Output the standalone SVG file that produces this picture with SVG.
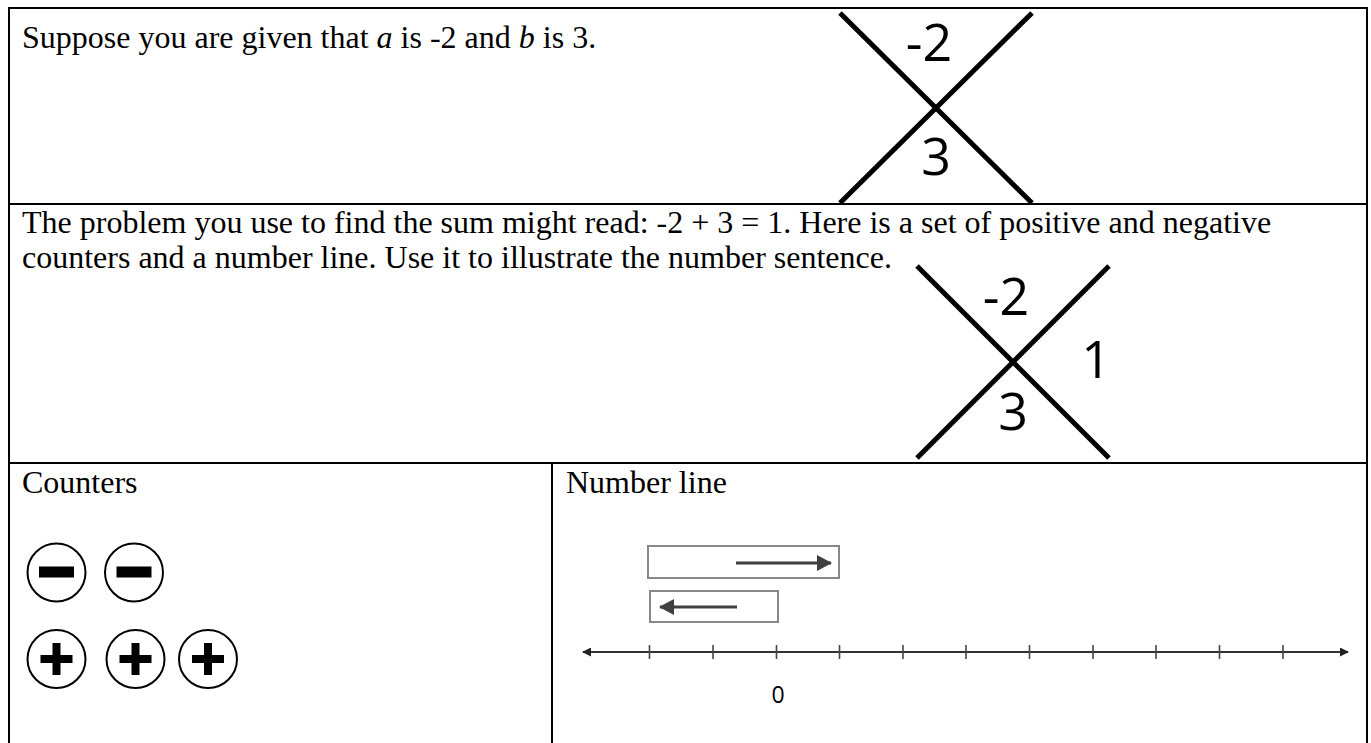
<svg xmlns="http://www.w3.org/2000/svg" width="1371" height="743" viewBox="0 0 1371 743">
  <style>
    .grid { stroke: #000; stroke-width: 2; fill: none; }
    .txt { font-family: "Liberation Serif", "Times New Roman", serif; font-size: 32px; fill: #000; }
    .xl { stroke: #000; stroke-width: 5; }
    .dig { font-family: "Open Sans", "Noto Sans", sans-serif; font-size: 52px; fill: #000; text-anchor: middle; }
    .ctr { fill: #fff; stroke: #000; stroke-width: 2; }
    .box { fill: #fff; stroke: #888; stroke-width: 2; }
    .garrow { stroke: #404040; stroke-width: 3; }
    .nl { stroke: #333; stroke-width: 2.2; }
    .tick { stroke: #444; stroke-width: 1.6; }
  </style>
  <defs>
    <marker id="ahGray" viewBox="0 0 15 16" refX="14" refY="8" markerUnits="userSpaceOnUse" markerWidth="15" markerHeight="16" orient="auto">
      <path d="M0,0 L15,8 L0,16 Z" fill="#404040"/>
    </marker>
    <marker id="ahLine" viewBox="0 0 9 9" refX="8" refY="4.5" markerUnits="userSpaceOnUse" markerWidth="9" markerHeight="9" orient="auto-start-reverse">
      <path d="M0,0 L9,4.5 L0,9 Z" fill="#222"/>
    </marker>
  </defs>

  <g id="table">
    <line class="grid" x1="9" y1="8" x2="1367" y2="8"/>
    <line class="grid" x1="9" y1="204" x2="1367" y2="204"/>
    <line class="grid" x1="9" y1="463" x2="1367" y2="463"/>
    <line class="grid" x1="9" y1="7" x2="9" y2="743"/>
    <line class="grid" x1="1367" y1="7" x2="1367" y2="743"/>
    <line class="grid" x1="552" y1="463" x2="552" y2="743"/>
  </g>

  <g id="row1-text">
    <text class="txt" x="22" y="48">Suppose you are given that <tspan font-style="italic">a</tspan> is -2 and <tspan font-style="italic">b</tspan> is 3.</text>
  </g>

  <g id="x-diagram-1">
    <line class="xl" x1="840" y1="13" x2="1032" y2="203"/>
    <line class="xl" x1="1032" y1="13" x2="840" y2="203"/>
    <text class="dig" x="929" y="61">-2</text>
    <text class="dig" x="936" y="175">3</text>
  </g>

  <g id="row2-text">
    <text class="txt" x="22" y="233">The problem you use to find the sum might read: -2 + 3 = 1. Here is a set of positive and negative</text>
    <text class="txt" x="22" y="268">counters and a number line. Use it to illustrate the number sentence.</text>
  </g>

  <g id="x-diagram-2">
    <line class="xl" x1="917" y1="266" x2="1109" y2="458"/>
    <line class="xl" x1="1109" y1="266" x2="917" y2="458"/>
    <text class="dig" x="1006" y="315">-2</text>
    <text class="dig" x="1096" y="378">1</text>
    <text class="dig" x="1013" y="430">3</text>
  </g>

  <g id="counters">
    <text class="txt" x="22" y="493">Counters</text>
    <g id="neg1">
      <circle class="ctr" cx="56.5" cy="572.5" r="29"/>
      <rect x="39" y="566.5" width="35" height="11" fill="#000"/>
    </g>
    <g id="neg2">
      <circle class="ctr" cx="134" cy="572.5" r="29"/>
      <rect x="116.5" y="566.5" width="35" height="11" fill="#000"/>
    </g>
    <g id="pos1">
      <circle class="ctr" cx="56.5" cy="659" r="29"/>
      <rect x="40.5" y="655" width="32" height="8" fill="#000"/>
      <rect x="52.5" y="643" width="8" height="32" fill="#000"/>
    </g>
    <g id="pos2">
      <circle class="ctr" cx="135.5" cy="659" r="29"/>
      <rect x="119.5" y="655" width="32" height="8" fill="#000"/>
      <rect x="131.5" y="643" width="8" height="32" fill="#000"/>
    </g>
    <g id="pos3">
      <circle class="ctr" cx="208" cy="659" r="29"/>
      <rect x="192" y="655" width="32" height="8" fill="#000"/>
      <rect x="204" y="643" width="8" height="32" fill="#000"/>
    </g>
  </g>

  <g id="number-line-cell">
    <text class="txt" x="566" y="493">Number line</text>
    <g id="box-plus3">
      <rect class="box" x="648" y="546" width="191" height="32"/>
    </g>
    <g id="box-minus2">
      <rect class="box" x="650" y="591" width="128" height="31"/>
    </g>
    <g id="number-line">
      <line class="nl" x1="583" y1="652" x2="1348" y2="652" marker-start="url(#ahLine)" marker-end="url(#ahLine)"/>
      <g class="tick">
        <line x1="649.5" y1="645" x2="649.5" y2="659"/>
        <line x1="713" y1="645" x2="713" y2="659"/>
        <line x1="776.5" y1="645" x2="776.5" y2="659"/>
        <line x1="839.5" y1="645" x2="839.5" y2="659"/>
        <line x1="903" y1="645" x2="903" y2="659"/>
        <line x1="966" y1="645" x2="966" y2="659"/>
        <line x1="1029.5" y1="645" x2="1029.5" y2="659"/>
        <line x1="1093" y1="645" x2="1093" y2="659"/>
        <line x1="1156" y1="645" x2="1156" y2="659"/>
        <line x1="1219.5" y1="645" x2="1219.5" y2="659"/>
        <line x1="1283" y1="645" x2="1283" y2="659"/>
      </g>
      <text x="778" y="703" font-family="'Open Sans', 'Noto Sans', sans-serif" font-size="23" text-anchor="middle" fill="#000">0</text>
    </g>
  </g>

  <g id="connectors">
    <line class="garrow" x1="736" y1="563" x2="831" y2="563" marker-end="url(#ahGray)"/>
    <line class="garrow" x1="737" y1="607" x2="660" y2="607" marker-end="url(#ahGray)"/>
  </g>
</svg>
